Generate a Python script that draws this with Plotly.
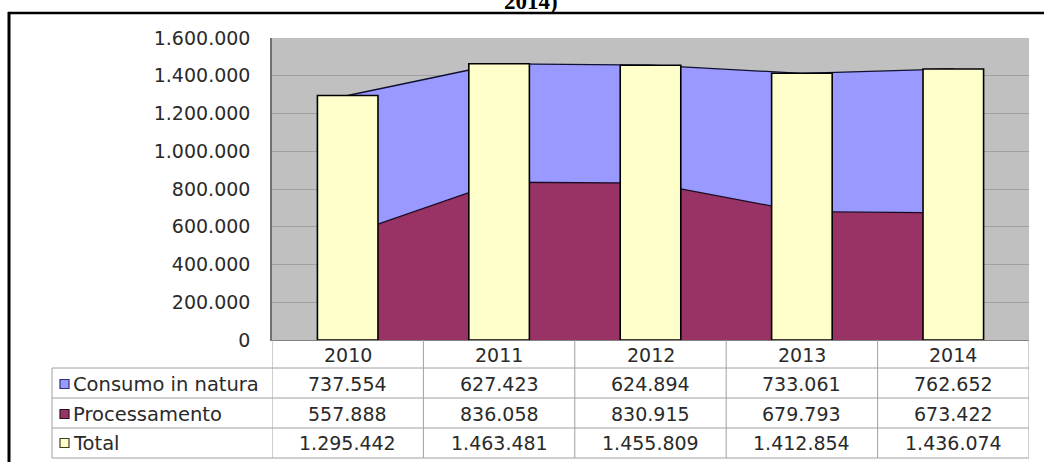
import plotly.graph_objects as go

# ---- data ----
years = ["2010", "2011", "2012", "2013", "2014"]
consumo = [737554, 627423, 624894, 733061, 762652]
processamento = [557888, 836058, 830915, 679793, 673422]
total = [1295442, 1463481, 1455809, 1412854, 1436074]
series_names = ["Consumo in natura", "Processamento", "Total"]
y_ticks = [0, 200000, 400000, 600000, 800000, 1000000, 1200000, 1400000, 1600000]
title_text = "2014)"

W, H = 1044, 462
def px(x):
    return x / W
def py(y):
    return 1 - y / H

def fmt(v):
    return f"{v:,}".replace(",", ".")

FONT = "DejaVu Sans"
TXT = "#2a2a2a"
GRID = "#a0a0a0"

x_idx = list(range(len(years)))

fig = go.Figure()

# stacked areas (main axes)
fig.add_trace(go.Scatter(
    x=x_idx, y=processamento, name=series_names[1], stackgroup="one",
    mode="lines", line=dict(color="#1a0a20", width=1.3),
    fillcolor="#993366", hoverinfo="skip", showlegend=False))
fig.add_trace(go.Scatter(
    x=x_idx, y=consumo, name=series_names[0], stackgroup="one",
    mode="lines", line=dict(color="#101030", width=1.3),
    fillcolor="#9999FF", hoverinfo="skip", showlegend=False))

# total bars on overlaid axes so they sit above the areas
fig.add_trace(go.Bar(
    x=x_idx, y=total, name=series_names[2], width=0.4,
    marker=dict(color="#FFFFCC", line=dict(color="#000000", width=1.6)),
    xaxis="x2", yaxis="y2", hoverinfo="skip", showlegend=False))

xdom = [px(272), px(1029)]
ydom = [py(340), py(38)]
xr = [-0.5, len(years) - 0.5]
yr = [0, 1600000]

fig.update_layout(
    template="none",
    width=W, height=H,
    margin=dict(l=0, r=0, t=0, b=0, pad=0, autoexpand=False),
    paper_bgcolor="white",
    plot_bgcolor="#C0C0C0",
    showlegend=False,
    xaxis=dict(domain=xdom, range=xr, showticklabels=False, showgrid=False,
               zeroline=False, showline=True, linecolor="#808080", linewidth=1,
               ticks="", automargin=False),
    yaxis=dict(domain=ydom, range=yr, tickvals=y_ticks,
               ticktext=[fmt(v) for v in y_ticks],
               tickfont=dict(family=FONT, size=19, color=TXT),
               showgrid=True, gridcolor=GRID, gridwidth=1, zeroline=False,
               showline=True, linecolor="#707070", linewidth=1.5,
               ticks="outside", ticklen=16, tickcolor="rgba(0,0,0,0)",
               automargin=False),
    xaxis2=dict(overlaying="x", range=xr, visible=False, automargin=False),
    yaxis2=dict(overlaying="y", range=yr, visible=False, automargin=False),
)

shapes = []
annotations = []

# outer frame (cut by the image edges)
shapes.append(dict(type="line", xref="paper", yref="paper",
                   x0=px(8), x1=1.0, y0=py(13), y1=py(13),
                   line=dict(color="black", width=2.5)))
shapes.append(dict(type="line", xref="paper", yref="paper",
                   x0=px(9), x1=px(9), y0=py(12), y1=0,
                   line=dict(color="black", width=3)))

# title fragment (the reference shows it cut by the top edge)
annotations.append(dict(text="<b>" + title_text + "</b>", xref="paper", yref="paper",
                        x=px(531), y=py(16), xanchor="center", yanchor="bottom",
                        showarrow=False,
                        font=dict(family="Liberation Serif", size=23, color="black")))

# data table
row_lines = [368, 398, 428, 458]
for yv in row_lines:
    shapes.append(dict(type="line", xref="paper", yref="paper",
                       x0=px(52), x1=px(1029), y0=py(yv), y1=py(yv),
                       line=dict(color=GRID, width=1)))
for k in range(len(years) + 1):
    shapes.append(dict(type="line", xref="x", yref="paper",
                       x0=k - 0.5, x1=k - 0.5, y0=py(340), y1=py(458),
                       line=dict(color=GRID, width=1)))
shapes.append(dict(type="line", xref="paper", yref="paper",
                   x0=px(52), x1=px(52), y0=py(368), y1=py(458),
                   line=dict(color=GRID, width=1)))

# year header
for i, yname in enumerate(years):
    annotations.append(dict(text=yname, xref="x", yref="paper", x=i, y=py(355),
                            xanchor="center", yanchor="middle", showarrow=False,
                            font=dict(family=FONT, size=19, color=TXT)))

rows = [(series_names[0], consumo, "#9999FF", "#303070"),
        (series_names[1], processamento, "#993366", "#301020"),
        (series_names[2], total, "#FFFFCC", "#404020")]
row_centers = [384, 414, 443]
for (label, vals, col, bcol), yc in zip(rows, row_centers):
    shapes.append(dict(type="rect", xref="paper", yref="paper",
                       x0=px(60), x1=px(69), y0=py(yc - 4.5), y1=py(yc + 4.5),
                       fillcolor=col, line=dict(color=bcol, width=1.2)))
    annotations.append(dict(text=label, xref="paper", yref="paper", x=px(71), y=py(yc),
                            xanchor="left", yanchor="middle", showarrow=False,
                            font=dict(family=FONT, size=19.5, color=TXT)))
    for i, v in enumerate(vals):
        annotations.append(dict(text=fmt(v), xref="x", yref="paper", x=i, y=py(yc),
                                xanchor="center", yanchor="middle", showarrow=False,
                                font=dict(family=FONT, size=19, color=TXT)))

fig.update_layout(shapes=shapes, annotations=annotations)

fig.write_html("out.html")
